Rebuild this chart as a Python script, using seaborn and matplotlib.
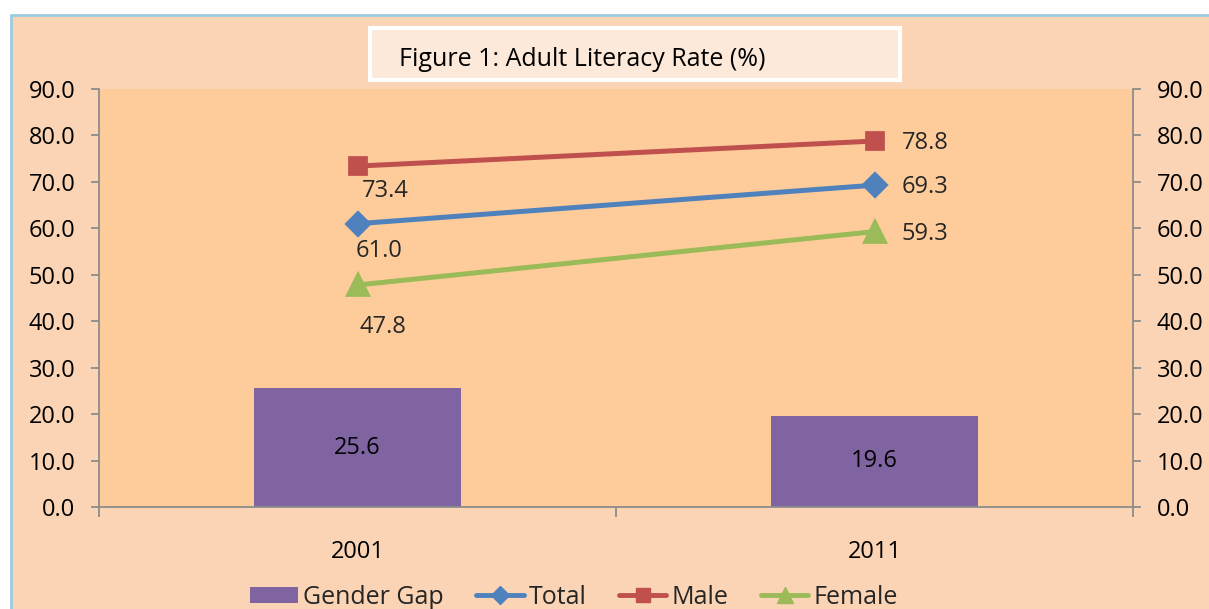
import matplotlib
matplotlib.use("Agg")
import matplotlib.pyplot as plt
import seaborn as sns
import pandas as pd
from matplotlib.patches import Patch, Rectangle
from matplotlib.lines import Line2D

years = ["2001", "2011"]
gender_gap = [25.6, 19.6]
total = [61.0, 69.3]
male = [73.4, 78.8]
female = [47.8, 59.3]
y_ticks = [0, 10, 20, 30, 40, 50, 60, 70, 80, 90]

sns.set_theme(style="white")
plt.rcParams["font.family"] = ["Open Sans", "DejaVu Sans"]

FIG_BG = "#FAD4B4"
PLOT_BG = "#FECC9A"
C_BAR = "#8064A2"
C_TOTAL = "#4F81BD"
C_MALE = "#C0504D"
C_FEMALE = "#9BBB59"
SPINE = "#8C8C8C"
FS = 17

W, H = 1209, 609
fig = plt.figure(figsize=(W / 100, H / 100), dpi=100)
fig.patch.set_facecolor("white")

fig.patches.append(Rectangle((11 / W, 0), 1 - 11 / W, 1 - 15 / H, transform=fig.transFigure,
                             facecolor=FIG_BG, edgecolor="none", zorder=-10))
fig.lines.append(Line2D([11 / W, 11 / W], [0, 1 - 15 / H], transform=fig.transFigure,
                        color="#9DCCE0", lw=2))
fig.lines.append(Line2D([11 / W, 1], [1 - 15 / H, 1 - 15 / H], transform=fig.transFigure,
                        color="#9DCCE0", lw=2))

left, right, top, bottom = 99, 1133, 89, 507
ax = fig.add_axes([left / W, 1 - bottom / H, (right - left) / W, (bottom - top) / H])
ax.set_facecolor(PLOT_BG)

bar_df = pd.DataFrame({"Year": years, "Gap": gender_gap})
sns.barplot(data=bar_df, x="Year", y="Gap", color=C_BAR, saturation=1, width=0.4, ax=ax,
            zorder=2, edgecolor="none", linewidth=0)

line_df = pd.DataFrame({
    "Year": years * 3,
    "Value": total + male + female,
    "Series": ["Total"] * 2 + ["Male"] * 2 + ["Female"] * 2,
})
series_style = {
    "Total": (C_TOTAL, "D", 11),
    "Male": (C_MALE, "s", 12),
    "Female": (C_FEMALE, "^", 14),
}
for name, (col, mk, ms) in series_style.items():
    sub = line_df[line_df["Series"] == name]
    sns.pointplot(data=sub, x="Year", y="Value", color=col, marker=mk,
                  markersize=ms, linewidth=3.6, ax=ax, zorder=3, errorbar=None)

ax.set_xlim(-0.5, 1.5)
ax.set_ylim(0, 90)
ax.set_yticks(y_ticks)
ax.set_yticklabels([f"{v:.1f}" for v in y_ticks])
ax.set_xlabel("")
ax.set_ylabel("")
ax.grid(False)

for s in ["left", "right", "bottom"]:
    ax.spines[s].set_visible(True)
    ax.spines[s].set_color(SPINE)
    ax.spines[s].set_linewidth(1.3)
ax.spines["top"].set_visible(False)

ax.tick_params(axis="y", which="major", left=True, right=True, labelleft=True, labelright=True,
               direction="out", length=6, width=1.3, color=SPINE, labelsize=FS, pad=11,
               labelcolor="black")
ax.set_xticks([0, 1])
ax.set_xticklabels(years)
ax.set_xticks([-0.5, 0.5, 1.5], minor=True)
ax.tick_params(axis="x", which="major", length=0, labelsize=FS, pad=24, labelcolor="black")
ax.tick_params(axis="x", which="minor", bottom=True, length=7, width=1.3, color=SPINE, direction="out")

for i, v in enumerate(gender_gap):
    ax.text(i, v / 2, f"{v:.1f}", ha="center", va="center", fontsize=FS, color="black", zorder=5)

pt = 72 / 100
below_offsets = {"Male": (28, -25), "Total": (22, -27), "Female": (25, -42)}
for name, vals in [("Total", total), ("Male", male), ("Female", female)]:
    dx, dy = below_offsets[name]
    ax.annotate(f"{vals[0]:.1f}", (0, vals[0]), xytext=(dx * pt, dy * pt), textcoords="offset points",
                ha="center", va="center", fontsize=FS, zorder=5)
    ax.annotate(f"{vals[1]:.1f}", (1, vals[1]), xytext=(27 * pt, -2 * pt), textcoords="offset points",
                ha="left", va="center", fontsize=FS, zorder=5)

fig.patches.append(Rectangle((370 / W, 1 - 80 / H), 530 / W, 52 / H, transform=fig.transFigure,
                             facecolor="#FDE9D9", edgecolor="white", lw=3, zorder=5))
fig.text(582 / W, 1 - 60 / H, "Figure 1: Adult Literacy Rate (%)", ha="center", va="center",
         fontsize=18, color="black", zorder=6)

handles = [
    Patch(facecolor=C_BAR, edgecolor="none"),
    Line2D([], [], color=C_TOTAL, marker="D", markersize=9, lw=3.5),
    Line2D([], [], color=C_MALE, marker="s", markersize=10, lw=3.5),
    Line2D([], [], color=C_FEMALE, marker="^", markersize=11, lw=3.5),
]
fig.legend(handles, ["Gender Gap", "Total", "Male", "Female"], loc="center",
           bbox_to_anchor=(574 / W, 1 - 597 / H), ncol=4, frameon=False, fontsize=18,
           handlelength=1.9, handletextpad=0.2, columnspacing=1.3, handleheight=0.6)

fig.savefig("out.png", dpi=100, facecolor=fig.get_facecolor())
